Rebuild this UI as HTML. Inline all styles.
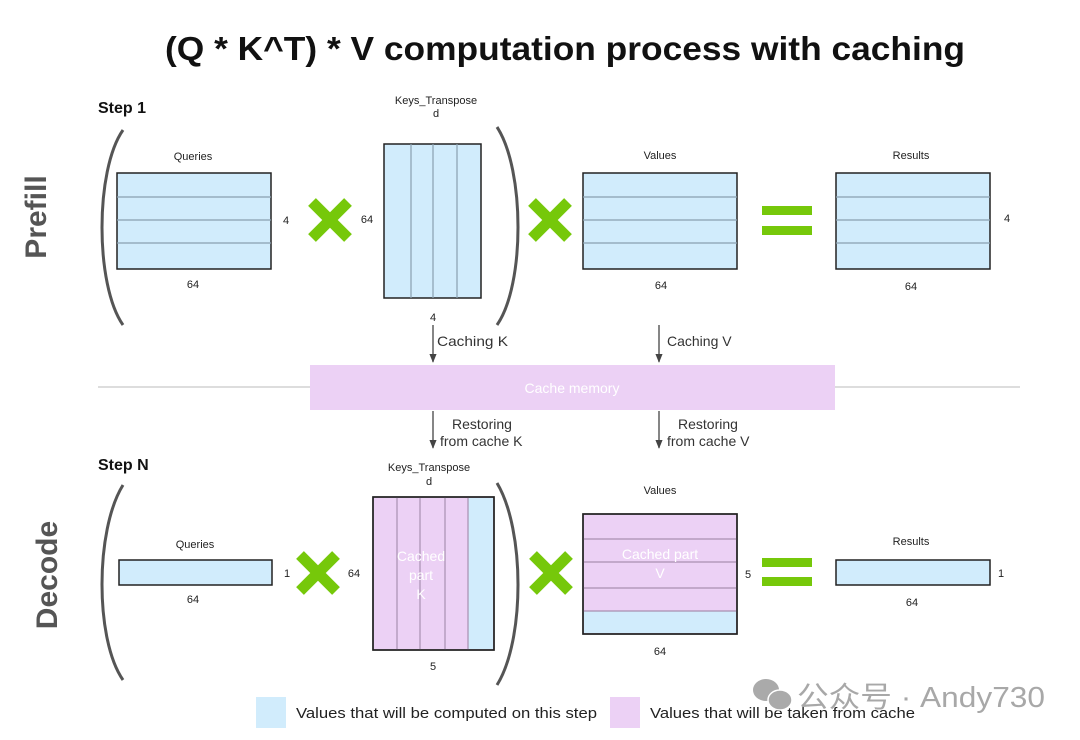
<!DOCTYPE html>
<html><head><meta charset="utf-8"><style>
html,body{margin:0;padding:0;background:#fff;}
svg{display:block;font-family:"Liberation Sans","DejaVu Sans",sans-serif;}
</style></head><body>
<svg width="1080" height="740" viewBox="0 0 1080 740" xmlns="http://www.w3.org/2000/svg">
<defs>
<marker id="ar" viewBox="0 0 10 10" refX="9" refY="5" markerWidth="7" markerHeight="7" orient="auto"><path d="M0,1 L10,5 L0,9 z" fill="#444"/></marker>
</defs>
<text x="565" y="60" font-size="33" font-weight="bold" text-anchor="middle" fill="#111" textLength="800" lengthAdjust="spacingAndGlyphs">(Q * K^T) * V computation process with caching</text>

<text x="98" y="113" font-size="16" font-weight="bold" fill="#111">Step 1</text>
<text transform="translate(46,217) rotate(-90)" font-size="30" font-weight="bold" fill="#555" text-anchor="middle">Prefill</text>

<g fill="none" stroke="#555" stroke-width="3">
<path d="M123,130 C95,170 95,285 123,325"/>
<path d="M497,127 C525,170 525,285 497,325"/>
<path d="M123,485 C95,530 95,640 123,680"/>
<path d="M497,483 C525,530 525,640 497,685"/>
</g>

<g font-size="11" fill="#222" text-anchor="middle">
<text x="193" y="160">Queries</text>
<rect x="117" y="173" width="154" height="96" fill="#d1ecfc" stroke="#222" stroke-width="1.5"/>
<g stroke="#8aa0b0" stroke-width="1.2"><line x1="117" y1="197" x2="271" y2="197"/><line x1="117" y1="220" x2="271" y2="220"/><line x1="117" y1="243" x2="271" y2="243"/></g>
<text x="286" y="224">4</text><text x="193" y="288">64</text>
<text x="367" y="223">64</text>
<text x="436" y="104">Keys_Transpose</text><text x="436" y="117">d</text>
<rect x="384" y="144" width="97" height="154" fill="#d1ecfc" stroke="#222" stroke-width="1.5"/>
<g stroke="#8aa0b0" stroke-width="1.2"><line x1="411" y1="144" x2="411" y2="298"/><line x1="433" y1="144" x2="433" y2="298"/><line x1="457" y1="144" x2="457" y2="298"/></g>
<text x="433" y="321">4</text>
<text x="660" y="159">Values</text>
<rect x="583" y="173" width="154" height="96" fill="#d1ecfc" stroke="#222" stroke-width="1.5"/>
<g stroke="#8aa0b0" stroke-width="1.2"><line x1="583" y1="197" x2="737" y2="197"/><line x1="583" y1="220" x2="737" y2="220"/><line x1="583" y1="243" x2="737" y2="243"/></g>
<text x="661" y="289">64</text>
<text x="911" y="159">Results</text>
<rect x="836" y="173" width="154" height="96" fill="#d1ecfc" stroke="#222" stroke-width="1.5"/>
<g stroke="#8aa0b0" stroke-width="1.2"><line x1="836" y1="197" x2="990" y2="197"/><line x1="836" y1="220" x2="990" y2="220"/><line x1="836" y1="243" x2="990" y2="243"/></g>
<text x="1007" y="222">4</text><text x="911" y="290">64</text>

<text x="195" y="548">Queries</text>
<rect x="119" y="560" width="153" height="25" fill="#d1ecfc" stroke="#222" stroke-width="1.5"/>
<text x="287" y="577">1</text><text x="193" y="603">64</text>
<text x="354" y="577">64</text>
<text x="429" y="471">Keys_Transpose</text><text x="429" y="485">d</text>
<rect x="373" y="497" width="121" height="153" fill="#ecd1f5" stroke="#222" stroke-width="1.5"/>
<rect x="468" y="498" width="25" height="151" fill="#d1ecfc"/>
<g stroke="#a890b0" stroke-width="1.2"><line x1="397" y1="497" x2="397" y2="650"/><line x1="420" y1="497" x2="420" y2="650"/><line x1="445" y1="497" x2="445" y2="650"/><line x1="468" y1="497" x2="468" y2="650"/></g>
<rect x="373" y="497" width="121" height="153" fill="none" stroke="#222" stroke-width="1.5"/>
<g fill="#fff" font-size="14"><text x="421" y="561">Cached</text><text x="421" y="580">part</text><text x="421" y="599">K</text></g>
<text x="433" y="670">5</text>
<text x="660" y="494">Values</text>
<rect x="583" y="514" width="154" height="120" fill="#ecd1f5" stroke="#222" stroke-width="1.5"/>
<rect x="584" y="611" width="152" height="22" fill="#d1ecfc"/>
<g stroke="#a890b0" stroke-width="1.2"><line x1="583" y1="539" x2="737" y2="539"/><line x1="583" y1="562" x2="737" y2="562"/><line x1="583" y1="588" x2="737" y2="588"/><line x1="583" y1="611" x2="737" y2="611"/></g>
<rect x="583" y="514" width="154" height="120" fill="none" stroke="#222" stroke-width="1.5"/>
<g fill="#fff" font-size="14"><text x="660" y="559">Cached part</text><text x="660" y="578">V</text></g>
<text x="748" y="578">5</text><text x="660" y="655">64</text>
<text x="911" y="545">Results</text>
<rect x="836" y="560" width="154" height="25" fill="#d1ecfc" stroke="#222" stroke-width="1.5"/>
<text x="1001" y="577">1</text><text x="912" y="606">64</text>
</g>

<text x="98" y="470" font-size="16" font-weight="bold" fill="#111">Step N</text>
<text transform="translate(57,575) rotate(-90)" font-size="30" font-weight="bold" fill="#555" text-anchor="middle">Decode</text>

<g stroke="#76c80a" stroke-width="11" stroke-linecap="butt">
<line x1="312" y1="202" x2="348" y2="238"/><line x1="348" y1="202" x2="312" y2="238"/>
<line x1="532" y1="202" x2="568" y2="238"/><line x1="568" y1="202" x2="532" y2="238"/>
<line x1="300" y1="555" x2="336" y2="591"/><line x1="336" y1="555" x2="300" y2="591"/>
<line x1="533" y1="555" x2="569" y2="591"/><line x1="569" y1="555" x2="533" y2="591"/>
</g>
<g fill="#76c80a">
<rect x="762" y="206" width="50" height="9"/><rect x="762" y="226" width="50" height="9"/>
<rect x="762" y="558" width="50" height="9"/><rect x="762" y="577" width="50" height="9"/>
</g>

<line x1="98" y1="387" x2="1020" y2="387" stroke="#ddd" stroke-width="2"/>
<rect x="310" y="365" width="525" height="45" fill="#ecd1f5"/>
<text x="572" y="393" font-size="14" fill="#fff" text-anchor="middle">Cache memory</text>
<g stroke="#444" stroke-width="1.3" marker-end="url(#ar)">
<line x1="433" y1="325" x2="433" y2="362"/><line x1="659" y1="325" x2="659" y2="362"/>
<line x1="433" y1="411" x2="433" y2="448"/><line x1="659" y1="411" x2="659" y2="448"/>
</g>
<g font-size="14" fill="#333">
<text x="437" y="346" textLength="71" lengthAdjust="spacingAndGlyphs">Caching K</text><text x="667" y="346">Caching V</text>
<text x="452" y="429">Restoring</text><text x="440" y="446">from cache K</text>
<text x="678" y="429">Restoring</text><text x="667" y="446">from cache V</text>
</g>

<rect x="256" y="697" width="30" height="31" fill="#d1ecfc"/>
<text x="296" y="718" font-size="15" fill="#222" textLength="301" lengthAdjust="spacingAndGlyphs">Values that will be computed on this step</text>
<rect x="610" y="697" width="30" height="31" fill="#ecd1f5"/>
<text x="650" y="718" font-size="15" fill="#222" textLength="265" lengthAdjust="spacingAndGlyphs">Values that will be taken from cache</text>

<g fill="#aaa">
<ellipse cx="766" cy="690" rx="13" ry="11"/>
<ellipse cx="780" cy="700" rx="12" ry="10" stroke="#fff" stroke-width="1.5"/>
</g>
<text x="797" y="707" font-size="29" fill="#a8a8a8" font-family="'Liberation Sans','Noto Sans CJK SC',sans-serif" textLength="248" lengthAdjust="spacingAndGlyphs">公众号 · Andy730</text>
</svg>
</body></html>
